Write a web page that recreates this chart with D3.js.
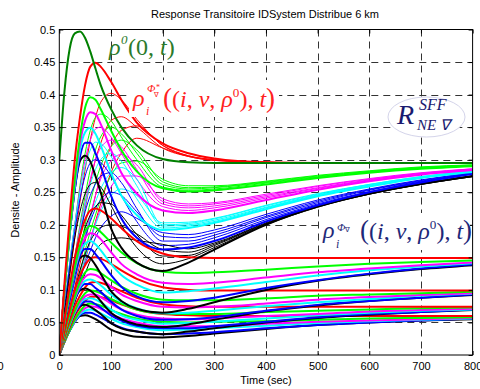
<!DOCTYPE html>
<html><head><meta charset="utf-8">
<script src="https://cdn.jsdelivr.net/npm/d3@7"></script>
<style>body{margin:0;background:#fff;overflow:hidden}</style>
</head><body><svg id="c" width="480" height="389"></svg>
<script>
// ---------------- DATA ----------------
const times = [0,10,20,30,40,50,60,70,80,100,120,150,200,250,300,400,500,600,700,800];
const xTicks = [0,100,200,300,400,500,600,700,800];
const yTicks = [0,0.05,0.1,0.15,0.2,0.25,0.3,0.35,0.4,0.45,0.5];
const yTickLabels = ["0","0.05","0.1","0.15","0.2","0.25","0.3","0.35","0.4","0.45","0.5"];

// upper cluster
const rho0      = [0.30,0.405,0.47,0.494,0.497,0.487,0.466,0.44,0.415,0.378,0.35,0.322,0.301,0.296,0.295,0.295,0.295,0.295,0.295,0.295];
const redThick  = [0,0.11,0.21,0.30,0.365,0.415,0.443,0.449,0.443,0.42,0.392,0.357,0.325,0.31,0.302,0.296,0.295,0.295,0.295,0.295];
const redThin1  = [0,0.06,0.12,0.18,0.235,0.285,0.33,0.365,0.388,0.402,0.392,0.362,0.322,0.306,0.3,0.296,0.295,0.295,0.295,0.295];
const redThin2  = [0,0.045,0.09,0.135,0.18,0.225,0.265,0.3,0.325,0.36,0.366,0.35,0.318,0.305,0.299,0.296,0.295,0.295,0.295,0.295];
const redThin3  = [0,0.035,0.07,0.105,0.14,0.175,0.21,0.245,0.275,0.32,0.345,0.352,0.322,0.306,0.3,0.296,0.295,0.295,0.295,0.295];
const redThin4  = [0,0.028,0.056,0.085,0.115,0.145,0.175,0.205,0.232,0.28,0.31,0.333,0.318,0.305,0.299,0.296,0.295,0.295,0.295,0.295];

const greenThick = [0,0.10,0.19,0.27,0.335,0.38,0.396,0.392,0.378,0.345,0.315,0.282,0.256,0.251,0.253,0.262,0.272,0.28,0.286,0.29];
const greenThin1 = [0,0.07,0.14,0.2,0.26,0.31,0.345,0.365,0.37,0.36,0.335,0.3,0.258,0.253,0.255,0.264,0.273,0.281,0.287,0.291];
const greenThin2 = [0,0.05,0.1,0.15,0.2,0.245,0.285,0.315,0.335,0.35,0.34,0.31,0.262,0.255,0.257,0.265,0.274,0.282,0.288,0.291];
const greenThin3 = [0,0.04,0.08,0.12,0.16,0.2,0.235,0.265,0.29,0.32,0.33,0.315,0.266,0.257,0.258,0.266,0.275,0.282,0.288,0.292];
const greenThin4 = [0,0.03,0.06,0.09,0.125,0.16,0.19,0.215,0.24,0.275,0.295,0.298,0.27,0.26,0.26,0.267,0.276,0.283,0.289,0.292];

const magThick = [0,0.10,0.19,0.265,0.325,0.36,0.373,0.37,0.355,0.315,0.28,0.248,0.222,0.218,0.222,0.238,0.254,0.267,0.277,0.284];
const magThin1 = [0,0.07,0.14,0.2,0.255,0.3,0.33,0.347,0.35,0.335,0.31,0.27,0.228,0.222,0.226,0.241,0.256,0.268,0.278,0.285];
const magThin2 = [0,0.05,0.1,0.15,0.195,0.235,0.27,0.3,0.318,0.33,0.32,0.285,0.232,0.226,0.229,0.243,0.257,0.269,0.279,0.285];
const magThin3 = [0,0.04,0.08,0.115,0.15,0.185,0.215,0.245,0.27,0.298,0.308,0.292,0.236,0.229,0.232,0.245,0.259,0.27,0.279,0.286];
const magThin4 = [0,0.03,0.06,0.09,0.12,0.15,0.178,0.203,0.225,0.258,0.275,0.275,0.24,0.232,0.234,0.247,0.26,0.271,0.28,0.286];

const cyanThick = [0,0.10,0.185,0.26,0.315,0.342,0.349,0.34,0.322,0.28,0.245,0.215,0.192,0.195,0.203,0.224,0.244,0.259,0.272,0.281];
const cyanThin1 = [0,0.07,0.14,0.2,0.25,0.29,0.315,0.327,0.325,0.305,0.28,0.24,0.195,0.198,0.205,0.226,0.245,0.26,0.272,0.282];
const cyanThin2 = [0,0.05,0.1,0.145,0.19,0.23,0.262,0.285,0.3,0.31,0.298,0.26,0.198,0.2,0.207,0.227,0.246,0.261,0.273,0.282];
const cyanThin3 = [0,0.04,0.08,0.115,0.15,0.18,0.21,0.235,0.255,0.28,0.288,0.27,0.2,0.202,0.209,0.229,0.247,0.262,0.274,0.283];
const cyanThin4 = [0,0.03,0.06,0.09,0.12,0.148,0.175,0.2,0.22,0.245,0.255,0.245,0.203,0.204,0.21,0.23,0.248,0.262,0.274,0.283];

const blueThick = [0,0.10,0.185,0.255,0.305,0.326,0.326,0.31,0.29,0.245,0.21,0.18,0.162,0.165,0.175,0.205,0.23,0.25,0.265,0.278];
const blueThin1 = [0,0.07,0.135,0.19,0.24,0.275,0.295,0.3,0.296,0.275,0.245,0.205,0.168,0.17,0.18,0.208,0.232,0.251,0.266,0.279];
const blueThin2 = [0,0.05,0.1,0.145,0.185,0.22,0.245,0.263,0.275,0.28,0.265,0.225,0.175,0.175,0.184,0.211,0.234,0.253,0.267,0.279];
const blueThin3 = [0,0.04,0.08,0.115,0.15,0.18,0.205,0.225,0.238,0.25,0.245,0.22,0.182,0.18,0.188,0.213,0.236,0.254,0.268,0.28];
const blueThin4 = [0,0.03,0.06,0.09,0.115,0.14,0.16,0.18,0.195,0.213,0.22,0.21,0.188,0.185,0.192,0.216,0.238,0.255,0.269,0.28];

const blackThick = [0,0.10,0.185,0.255,0.298,0.306,0.297,0.275,0.25,0.195,0.165,0.142,0.129,0.142,0.162,0.2,0.228,0.248,0.263,0.275];
const blackThin1 = [0,0.065,0.125,0.18,0.22,0.248,0.262,0.265,0.258,0.23,0.2,0.165,0.14,0.148,0.165,0.2,0.227,0.247,0.262,0.274];
const blackThin2 = [0,0.045,0.09,0.13,0.165,0.195,0.215,0.228,0.234,0.232,0.215,0.185,0.152,0.153,0.168,0.201,0.228,0.247,0.262,0.274];
const blackThin3 = [0,0.035,0.07,0.1,0.13,0.155,0.175,0.188,0.196,0.2,0.198,0.186,0.162,0.158,0.17,0.202,0.228,0.248,0.263,0.275];
const blackThin4 = [0,0.03,0.055,0.08,0.105,0.125,0.145,0.16,0.17,0.178,0.18,0.176,0.17,0.163,0.172,0.203,0.229,0.248,0.263,0.275];

// lower bands (2..5)
const red2 = [0,0.055,0.105,0.15,0.183,0.208,0.222,0.225,0.222,0.21,0.195,0.175,0.156,0.15,0.149,0.149,0.149,0.149,0.149,0.149];
const red3 = [0,0.037,0.07,0.1,0.122,0.138,0.148,0.15,0.148,0.14,0.13,0.117,0.104,0.1,0.099,0.099,0.099,0.099,0.099,0.099];
const red4 = [0,0.028,0.053,0.075,0.091,0.104,0.111,0.112,0.111,0.105,0.098,0.088,0.078,0.075,0.074,0.074,0.074,0.074,0.074,0.074];
const red5 = [0,0.022,0.042,0.06,0.073,0.083,0.089,0.09,0.089,0.084,0.078,0.07,0.063,0.061,0.06,0.06,0.06,0.06,0.06,0.06];

const green2 = [0,0.05,0.095,0.135,0.168,0.19,0.198,0.196,0.189,0.173,0.158,0.141,0.128,0.126,0.127,0.131,0.136,0.14,0.143,0.145];
const green3 = [0,0.033,0.063,0.09,0.112,0.127,0.132,0.131,0.126,0.115,0.105,0.094,0.085,0.084,0.084,0.087,0.091,0.093,0.095,0.097];
const green4 = [0,0.025,0.048,0.068,0.084,0.095,0.099,0.098,0.095,0.086,0.079,0.07,0.064,0.063,0.063,0.066,0.068,0.07,0.072,0.073];
const green5 = [0,0.02,0.038,0.054,0.067,0.076,0.079,0.078,0.076,0.069,0.063,0.056,0.051,0.05,0.051,0.052,0.054,0.056,0.057,0.058];

const mag2 = [0,0.05,0.095,0.133,0.163,0.18,0.187,0.185,0.178,0.158,0.14,0.124,0.111,0.109,0.111,0.119,0.127,0.133,0.138,0.142];
const mag3 = [0,0.033,0.063,0.088,0.108,0.12,0.124,0.123,0.118,0.105,0.093,0.083,0.074,0.073,0.074,0.079,0.085,0.089,0.092,0.095];
const mag4 = [0,0.025,0.048,0.066,0.081,0.09,0.093,0.093,0.089,0.079,0.07,0.062,0.056,0.055,0.056,0.06,0.063,0.067,0.069,0.071];
const mag5 = [0,0.02,0.038,0.053,0.065,0.072,0.075,0.074,0.071,0.063,0.056,0.05,0.044,0.044,0.044,0.048,0.051,0.053,0.055,0.057];

const cyan2 = [0,0.05,0.093,0.13,0.158,0.171,0.175,0.17,0.161,0.14,0.123,0.108,0.096,0.098,0.102,0.112,0.122,0.13,0.136,0.141];
const cyan3 = [0,0.033,0.062,0.087,0.105,0.114,0.116,0.113,0.107,0.093,0.082,0.072,0.064,0.065,0.068,0.075,0.081,0.086,0.091,0.094];
const cyan4 = [0,0.025,0.046,0.065,0.079,0.086,0.087,0.085,0.081,0.07,0.061,0.054,0.048,0.049,0.051,0.056,0.061,0.065,0.068,0.07];
const cyan5 = [0,0.02,0.037,0.052,0.063,0.068,0.07,0.068,0.064,0.056,0.049,0.043,0.038,0.039,0.041,0.045,0.049,0.052,0.054,0.056];

const blue2 = [0,0.05,0.093,0.128,0.153,0.163,0.163,0.155,0.145,0.123,0.105,0.09,0.081,0.083,0.088,0.103,0.115,0.125,0.133,0.139];
const blue3 = [0,0.033,0.062,0.085,0.102,0.109,0.109,0.103,0.097,0.082,0.07,0.06,0.054,0.055,0.058,0.068,0.077,0.083,0.088,0.093];
const blue4 = [0,0.025,0.046,0.064,0.076,0.082,0.082,0.078,0.073,0.061,0.053,0.045,0.041,0.041,0.044,0.051,0.058,0.063,0.066,0.07];
const blue5 = [0,0.02,0.037,0.051,0.061,0.065,0.065,0.062,0.058,0.049,0.042,0.036,0.032,0.033,0.035,0.041,0.046,0.05,0.053,0.056];

const black2 = [0,0.05,0.093,0.128,0.149,0.153,0.149,0.138,0.125,0.098,0.083,0.071,0.065,0.071,0.081,0.1,0.114,0.124,0.132,0.138];
const black3 = [0,0.033,0.062,0.085,0.099,0.102,0.099,0.092,0.083,0.065,0.055,0.047,0.043,0.047,0.054,0.067,0.076,0.083,0.088,0.092];
const black4 = [0,0.025,0.046,0.064,0.075,0.077,0.074,0.069,0.063,0.049,0.041,0.036,0.032,0.036,0.041,0.05,0.057,0.062,0.066,0.069];
const black5 = [0,0.02,0.037,0.051,0.06,0.061,0.059,0.055,0.05,0.039,0.033,0.028,0.027,0.029,0.033,0.04,0.046,0.05,0.053,0.055];

// ---------------- STYLE / SERIES TABLE ----------------
const C = {r:"#ff0000", g:"#00ff00", m:"#ff00ff", c:"#00ffff", b:"#0000ff", k:"#000000", dg:"#008000"};
const series = [
  [redThin4,C.r,1],[redThin3,C.r,1],[redThin2,C.r,1],[redThin1,C.r,1],
  [greenThin4,C.g,1],[greenThin3,C.g,1],[greenThin2,C.g,1],[greenThin1,C.g,1],
  [magThin4,C.m,1],[magThin3,C.m,1],[magThin2,C.m,1],[magThin1,C.m,1],
  [cyanThin4,C.c,1],[cyanThin3,C.c,1],[cyanThin2,C.c,1],[cyanThin1,C.c,1],
  [blueThin4,C.b,1],[blueThin3,C.b,1],[blueThin2,C.b,1],[blueThin1,C.b,1],
  [blackThin4,C.k,1],[blackThin3,C.k,1],[blackThin2,C.k,1],[blackThin1,C.k,1],
  [black5,C.k,2],[blue5,C.b,2],[cyan5,C.c,2],[mag5,C.m,2],[green5,C.g,2],[red5,C.r,2],
  [black4,C.k,2],[blue4,C.b,2],[cyan4,C.c,2],[mag4,C.m,2],[green4,C.g,2],[red4,C.r,2],
  [black3,C.k,2],[blue3,C.b,2],[cyan3,C.c,2],[mag3,C.m,2],[green3,C.g,2],[red3,C.r,2],
  [black2,C.k,2],[blue2,C.b,2],[cyan2,C.c,2],[mag2,C.m,2],[green2,C.g,2],[red2,C.r,2],
  [blackThick,C.k,2],[blueThick,C.b,2],[cyanThick,C.c,2],[magThick,C.m,2],[greenThick,C.g,2],[redThick,C.r,2],[rho0,C.dg,2]
];

// ---------------- CHART ----------------
const svg = d3.select("#c");
const L = 59.3, R = 472.6, T = 29.5, B = 355;
const x = d3.scaleLinear().domain([0,800]).range([L,R]);
const y = d3.scaleLinear().domain([0,0.5]).range([B,T]);
const sans = "'Liberation Sans', Arial, sans-serif";
const serif = "'Liberation Serif', 'Times New Roman', serif";

svg.append("rect").attr("width",480).attr("height",389).attr("fill","#fff");

// grid
const grid = svg.append("g").attr("stroke","#333").attr("stroke-width",1).attr("stroke-dasharray","7,5").attr("fill","none");
grid.selectAll(".gx").data(xTicks.slice(1,-1)).join("line")
  .attr("x1",d=>Math.round(x(d))+0.5).attr("x2",d=>Math.round(x(d))+0.5).attr("y1",T).attr("y2",B);
grid.selectAll(".gy").data(yTicks.slice(1,-1)).join("line")
  .attr("y1",d=>Math.round(y(d))+0.5).attr("y2",d=>Math.round(y(d))+0.5).attr("x1",L).attr("x2",R);

// curves
svg.append("clipPath").attr("id","clip").append("rect").attr("x",L).attr("y",T).attr("width",R-L).attr("height",B-T);
const line = d3.line().x((d,i)=>x(times[i])).y(d=>y(d)).curve(d3.curveMonotoneX);
svg.append("g").attr("clip-path","url(#clip)").selectAll("path").data(series).join("path")
  .attr("d",d=>line(d[0])).attr("fill","none").attr("stroke",d=>d[1]).attr("stroke-width",d=>d[2])
  .attr("stroke-linejoin","round");

// axes
const styleAxis = g => { g.select(".domain").remove(); g.selectAll("text").attr("font-family",sans).attr("font-size",11).attr("fill","#000"); g.selectAll("line").attr("stroke","#000"); };
svg.append("g").attr("transform",`translate(0,${B})`).call(d3.axisBottom(x).tickValues(xTicks).tickSizeInner(-4).tickSizeOuter(0).tickPadding(7)).call(styleAxis);
svg.append("g").attr("transform",`translate(${L},0)`).call(d3.axisLeft(y).tickValues(yTicks).tickFormat((d,i)=>yTickLabels[i]).tickSizeInner(-4).tickSizeOuter(0).tickPadding(4)).call(styleAxis);
svg.append("g").attr("transform",`translate(0,${T})`).call(d3.axisTop(x).tickValues(xTicks).tickFormat("").tickSizeInner(-4).tickSizeOuter(0)).call(styleAxis);
svg.append("g").attr("transform",`translate(${R},0)`).call(d3.axisRight(y).tickValues(yTicks).tickFormat("").tickSizeInner(-4).tickSizeOuter(0)).call(styleAxis);
svg.append("rect").attr("x",L).attr("y",T).attr("width",R-L).attr("height",B-T).attr("fill","none").attr("stroke","#000").attr("stroke-width",1);

// titles
svg.append("text").attr("x",265).attr("y",18).attr("text-anchor","middle").attr("font-family",sans).attr("font-size",11).text("Response Transitoire IDSystem Distribue 6 km");
svg.append("text").attr("x",266).attr("y",384).attr("text-anchor","middle").attr("font-family",sans).attr("font-size",11).text("Time (sec)");
svg.append("text").attr("transform","translate(19,190) rotate(-90)").attr("text-anchor","middle").attr("font-family",sans).attr("font-size",11).text("Densite - Amplitude");
svg.append("text").attr("x",3.5).attr("y",370).attr("text-anchor","end").attr("font-family",sans).attr("font-size",11).text("0");

// ---------------- ANNOTATIONS ----------------
function tail(t, size){
  // "((i, v, ρ⁰), t)"
  const parts = [["(",4],["(",0],["i",1],[", ",0],["v",1],[", ",0],["ρ",1],["0",2],["), ",3],["t",1],[")",4]];
  parts.forEach(([s,k])=>{
    const sp = t.append("tspan").text(s);
    if(k===1) sp.attr("font-style","italic");
    if(k===2) sp.attr("font-size",size*0.55).attr("dy",-size*0.42);
    if(k===3) sp.attr("dy",size*0.42);
    if(k===4) sp.attr("font-size",size*1.12);
  });
}
// rho^0(0,t)
const g0 = svg.append("g").attr("fill","#2b7a2b").attr("font-family",serif);
g0.append("text").attr("x",109).attr("y",55).attr("font-size",24).attr("font-style","italic").text("ρ");
g0.append("text").attr("x",121).attr("y",44).attr("font-size",13).attr("font-style","italic").text("0");
const t0 = g0.append("text").attr("x",128).attr("y",55).attr("font-size",24);
t0.append("tspan").text("(0, "); t0.append("tspan").attr("font-style","italic").text("t"); t0.append("tspan").text(")");

// red label with white background
svg.append("rect").attr("x",129).attr("y",80).attr("width",150).attr("height",37).attr("fill","#fff");
const g1 = svg.append("g").attr("fill","#ff2020").attr("font-family",serif);
g1.append("text").attr("x",133).attr("y",106).attr("font-size",24).attr("font-style","italic").text("ρ");
g1.append("text").attr("x",147).attr("y",92).attr("font-size",11).attr("font-style","italic").text("Φ");
g1.append("text").attr("x",156).attr("y",90).attr("font-size",8).text("*");
g1.append("text").attr("x",154).attr("y",97).attr("font-size",7).text("∇");
g1.append("text").attr("x",146).attr("y",115).attr("font-size",12).attr("font-style","italic").text("i");
tail(g1.append("text").attr("x",163).attr("y",107).attr("font-size",24), 24);

// blue label with white background
svg.append("rect").attr("x",322).attr("y",213).attr("width",148).attr("height",37).attr("fill","#fff");
const g2 = svg.append("g").attr("fill","#1e2878").attr("font-family",serif);
g2.append("text").attr("x",323).attr("y",238).attr("font-size",24).attr("font-style","italic").text("ρ");
g2.append("text").attr("x",337).attr("y",231).attr("font-size",11).attr("font-style","italic").text("Φ");
g2.append("text").attr("x",345).attr("y",232).attr("font-size",7).text("∇");
g2.append("text").attr("x",336).attr("y",248).attr("font-size",12).attr("font-style","italic").text("i");
tail(g2.append("text").attr("x",360).attr("y",239).attr("font-size",24), 24);

// R ellipse
svg.append("ellipse").attr("cx",426.5).attr("cy",117).attr("rx",38.5).attr("ry",20).attr("fill","#fff").attr("stroke","#d4d4ea").attr("stroke-width",1);
const g3 = svg.append("g").attr("fill","#1a1a70").attr("font-family",serif).attr("font-style","italic");
g3.append("text").attr("x",397).attr("y",124).attr("font-size",28).text("R");
g3.append("text").attr("x",419).attr("y",110).attr("font-size",16).text("SFF");
g3.append("text").attr("x",417).attr("y",130).attr("font-size",15).text("NE ∇");
</script></body></html>
